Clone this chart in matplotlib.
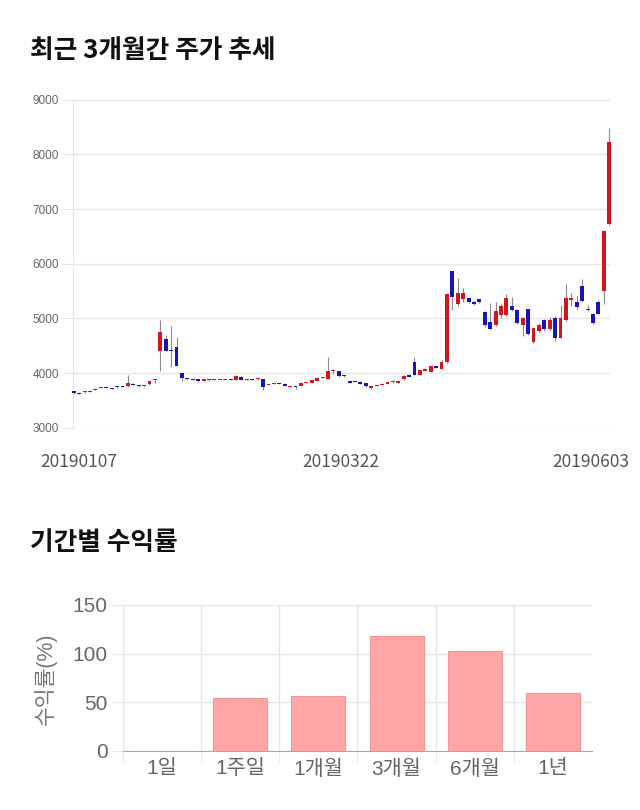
import matplotlib
matplotlib.use('Agg')
import matplotlib.pyplot as plt
import matplotlib.transforms as mtransforms
import numpy as np

plt.rcParams['font.family'] = ['Liberation Sans', 'Noto Sans CJK KR']

# daily candles, 2019-01-07 .. 2019-06-03
opens = [3670, 3640, 3650, 3665, 3690, 3730, 3740, 3725, 3755, 3760,
         3760, 3810, 3780, 3760, 3800, 3875, 4400, 4630, 4420, 4480,
         4000, 3905, 3895, 3890, 3860, 3880, 3870, 3875, 3880, 3885,
         3880, 3940, 3880, 3885, 3890, 3890, 3790, 3805, 3810, 3810,
         3750, 3770, 3770, 3830, 3830, 3860, 3920, 3895, 4040, 4040,
         3950, 3850, 3845, 3845, 3815, 3725, 3770, 3785, 3810, 3840,
         3820, 3890, 3970, 4200, 3970, 4050, 4025, 4125, 4075, 4200,
         5860, 5270, 5350, 5380, 5310, 5350, 5120, 4930, 4885, 5060,
         5070, 5230, 5155, 4885, 5165, 4575, 4765, 4970, 4800, 5010,
         4645, 4975, 5340, 5300, 5590, 5175, 5090, 5300, 5500, 6720]
highs = [3680, 3650, 3670, 3690, 3725, 3745, 3745, 3730, 3765, 3770,
         3970, 3820, 3785, 3775, 3865, 3900, 4970, 4700, 4860, 4660,
         4010, 3915, 3900, 3895, 3905, 3885, 3880, 3885, 3890, 3890,
         3960, 3945, 3890, 3890, 3905, 3895, 3810, 3820, 3820, 3815,
         3775, 3775, 3835, 3840, 3885, 3925, 3930, 4290, 4070, 4045,
         3960, 3855, 3850, 3850, 3820, 3775, 3790, 3815, 3840, 3850,
         3865, 3960, 3980, 4295, 4065, 4085, 4140, 4135, 4250, 5460,
         5870, 5740, 5560, 5390, 5320, 5360, 5140, 5290, 5300, 5260,
         5445, 5400, 5170, 5030, 5180, 4840, 4920, 4990, 5030, 5050,
         5240, 5630, 5460, 5420, 5720, 5240, 5100, 5330, 6610, 8480]
lows = [3630, 3615, 3640, 3655, 3685, 3725, 3725, 3710, 3735, 3740,
        3750, 3780, 3755, 3755, 3790, 3820, 4050, 4400, 4110, 4130,
        3850, 3885, 3875, 3840, 3855, 3865, 3860, 3870, 3875, 3875,
        3875, 3875, 3870, 3875, 3880, 3690, 3780, 3800, 3800, 3760,
        3740, 3710, 3765, 3820, 3825, 3855, 3910, 3890, 3990, 3940,
        3930, 3815, 3835, 3795, 3750, 3715, 3765, 3780, 3805, 3830,
        3815, 3885, 3935, 3960, 3960, 4045, 4020, 4100, 4070, 4195,
        5150, 5220, 5300, 5280, 5240, 5290, 4850, 4800, 4870, 5000,
        5040, 5130, 4900, 4680, 4700, 4560, 4750, 4780, 4790, 4590,
        4640, 4960, 5220, 5170, 5300, 5140, 4900, 5080, 5270, 6700]
closes = [3640, 3625, 3665, 3680, 3720, 3735, 3730, 3720, 3745, 3745,
          3820, 3790, 3760, 3770, 3860, 3885, 4755, 4400, 4400, 4135,
          3910, 3895, 3880, 3855, 3900, 3870, 3875, 3880, 3885, 3880,
          3950, 3880, 3885, 3880, 3895, 3755, 3805, 3810, 3805, 3770,
          3770, 3750, 3830, 3835, 3880, 3920, 3925, 4040, 4045, 3950,
          3945, 3825, 3840, 3800, 3765, 3770, 3785, 3810, 3835, 3845,
          3860, 3950, 3940, 3970, 4060, 4075, 4135, 4105, 4200, 5455,
          5400, 5460, 5470, 5310, 5260, 5300, 4890, 4815, 5130, 5220,
          5370, 5155, 4915, 5010, 4725, 4830, 4885, 4800, 4980, 4645,
          5005, 5380, 5375, 5215, 5320, 5155, 4915, 5090, 6600, 8230]
date_ticks = [0, 50, 99]
date_labels = ['20190107', '20190322', '20190603']

# period returns (%)
periods = ['1일', '1주일', '1개월', '3개월', '6개월', '1년']
returns = [0, 54.0, 56.7, 118.2, 103.2, 59.1]

grid_c = '#e6e6e6'

fig = plt.figure(figsize=(6.4, 8.1), dpi=100)

fig.text(30/640, 1 - 51/810, '최근 3개월간 주가 추세', fontsize=18.5,
         fontweight='bold', family='Noto Sans CJK KR', color='#111111', va='center')
fig.text(30/640, 1 - 543/810, '기간별 수익률', fontsize=18.5,
         fontweight='bold', family='Noto Sans CJK KR', color='#111111', va='center')

# --- candlestick chart
ax = fig.add_axes([72.7/640, 1 - 428/810, (610 - 72.7)/640, (428 - 99.5)/810])
x = np.arange(len(opens))
o = np.array(opens)
c = np.array(closes)
colors = np.where(c >= o, '#d0161f', '#1616b8')
ax.vlines(x, lows, highs, color='#8a8a8a', lw=0.8, zorder=2, clip_on=False)
ax.bar(x, np.maximum(np.abs(c - o), 18), bottom=np.minimum(o, c), width=0.72,
       color=colors, linewidth=0, zorder=3, clip_on=False)

ax.set_xlim(-0.2, 99.15)
ax.set_ylim(3000, 9000)
ax.set_yticks(range(3000, 9001, 1000))
ax.grid(axis='y', color=grid_c, lw=1)
ax.set_axisbelow(True)
for s in ['top', 'right', 'bottom']:
    ax.spines[s].set_visible(False)
ax.spines['left'].set_color(grid_c)
ax.tick_params(axis='y', length=8, color=grid_c, labelsize=8.5, labelcolor='#666666', pad=2)
ax.set_xticks(date_ticks)
ax.set_xticklabels(date_labels, family='Noto Sans CJK KR')
ax.tick_params(axis='x', length=0, labelsize=12.5, labelcolor='#555555', pad=18)
shifts = [5.5, -3, -18.5]
for lab, dx in zip(ax.get_xticklabels(), shifts):
    lab.set_transform(lab.get_transform() +
                      mtransforms.ScaledTranslation(dx/100, 0, fig.dpi_scale_trans))

# --- returns bar chart
ax2 = fig.add_axes([123/640, 1 - 751/810, (592 - 123)/640, (751 - 605)/810])
ax2.bar(range(len(periods)), returns, width=0.69, color='#ffa5a5',
        edgecolor='#ec9a9a', lw=0.8, zorder=3)
ax2.set_xlim(-0.5, 5.5)
ax2.set_ylim(0, 150)
ax2.set_yticks([0, 50, 100, 150])
ax2.set_xticks(range(len(periods)))
ax2.set_xticklabels(periods)
ax2.set_xticks(np.arange(-0.5, 5.0, 1), minor=True)
ax2.grid(axis='y', color=grid_c, lw=1)
ax2.grid(axis='x', which='minor', color=grid_c, lw=1)
ax2.set_axisbelow(True)
for s in ['top', 'right']:
    ax2.spines[s].set_visible(False)
ax2.spines['left'].set_color(grid_c)
ax2.spines['bottom'].set_color('#aaaaaa')
ax2.tick_params(axis='y', length=8, color=grid_c, labelsize=15, labelcolor='#666666', pad=3)
ax2.tick_params(axis='x', which='major', length=0, labelsize=15, labelcolor='#666666', pad=6)
ax2.tick_params(axis='x', which='minor', length=8, color=grid_c)
fig.text(45/640, 1 - 679/810, '수익률(%)', rotation=90, fontsize=15.5,
         color='#777777', ha='center', va='center')

fig.savefig('out.png', dpi=100)
